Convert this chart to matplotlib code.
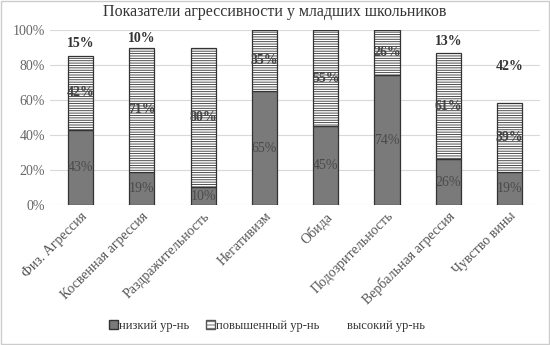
import matplotlib
matplotlib.use("Agg")
import matplotlib.pyplot as plt
import numpy as np
from matplotlib.patches import Rectangle

plt.rcParams["font.family"] = ["Liberation Serif", "DejaVu Serif"]
plt.rcParams["hatch.color"] = "#9a9a9a"
plt.rcParams["hatch.linewidth"] = 0.6

categories = ["Физ. Агрессия", "Косвенная агрессия", "Раздражительность",
              "Негативизм", "Обида", "Подозрительность",
              "Вербальная агрессия", "Чувство вины"]
low = [43, 19, 10, 65, 45, 74, 26, 19]
raised = [42, 71, 80, 35, 55, 26, 61, 39]
high = [15, 10, 0, 0, 0, 0, 13, 42]
yticks = [0, 20, 40, 60, 80, 100]

fig = plt.figure(figsize=(5.5, 3.45), dpi=100)
ax = fig.add_axes([0.091, 0.406, 0.891, 0.507])

x = np.arange(len(categories))
w = 0.41
low_arr = np.array(low)
raised_arr = np.array(raised)

ax.bar(x, low, w, color="#7a7a7a", edgecolor="#333333", linewidth=0.9, zorder=3)
ax.bar(x, raised, w, bottom=low, color="white", edgecolor="#333333",
       hatch="-------", linewidth=0.9, zorder=3)
ax.bar(x, high, w, bottom=low_arr + raised_arr, color="none",
       edgecolor="none", zorder=3)

for i in range(len(categories)):
    ax.text(x[i], low[i] / 2, f"{low[i]}%", ha="center", va="center",
            fontsize=10, color="#4a4a4a", zorder=4)
    ax.text(x[i], low[i] + raised[i] / 2, f"{raised[i]}%", ha="center",
            va="center", fontsize=10, color="#444444", fontweight="bold", zorder=4)
    if high[i] > 0:
        ax.text(x[i], low[i] + raised[i] + high[i] / 2, f"{high[i]}%",
                ha="center", va="center", fontsize=10, color="#333333",
                fontweight="bold", zorder=4)

ax.set_xlim(-0.5, len(categories) - 0.5)
ax.set_ylim(0, 100)
ax.set_yticks(yticks)
ax.set_yticklabels([f"{t}%" for t in yticks], fontsize=10, color="#666666")
ax.yaxis.grid(True, color="#d9d9d9", linewidth=0.8, zorder=0)
ax.set_axisbelow(True)
for s in ax.spines.values():
    s.set_visible(False)
ax.tick_params(axis="both", length=0)
ax.set_xticks(x)
ax.set_xticklabels(categories, rotation=45, ha="right", rotation_mode="anchor",
                   fontsize=10, color="#555555")

fig.text(0.5, 0.965, "Показатели агрессивности у младших школьников",
         ha="center", va="center", fontsize=11.5, color="#333333")

handles = [Rectangle((0, 0), 1, 1, facecolor="#7a7a7a", edgecolor="#333333"),
           Rectangle((0, 0), 1, 1, facecolor="white", edgecolor="#555555",
                     hatch="-----"),
           Rectangle((0, 0), 1, 1, facecolor="none", edgecolor="none")]
fig.legend(handles, ["низкий ур-нь", "повышенный ур-нь", "высокий ур-нь"],
           loc="center", bbox_to_anchor=(0.485, 0.055), ncol=3, frameon=False,
           fontsize=9, handlelength=0.7, handleheight=0.7, handletextpad=0.15,
           columnspacing=1.3, labelcolor="#333333")

fig.patches.append(Rectangle((0.002, 0.003), 0.996, 0.994, transform=fig.transFigure,
                             fill=False, edgecolor="#cccccc", linewidth=1))

fig.savefig("out.png", dpi=100)
